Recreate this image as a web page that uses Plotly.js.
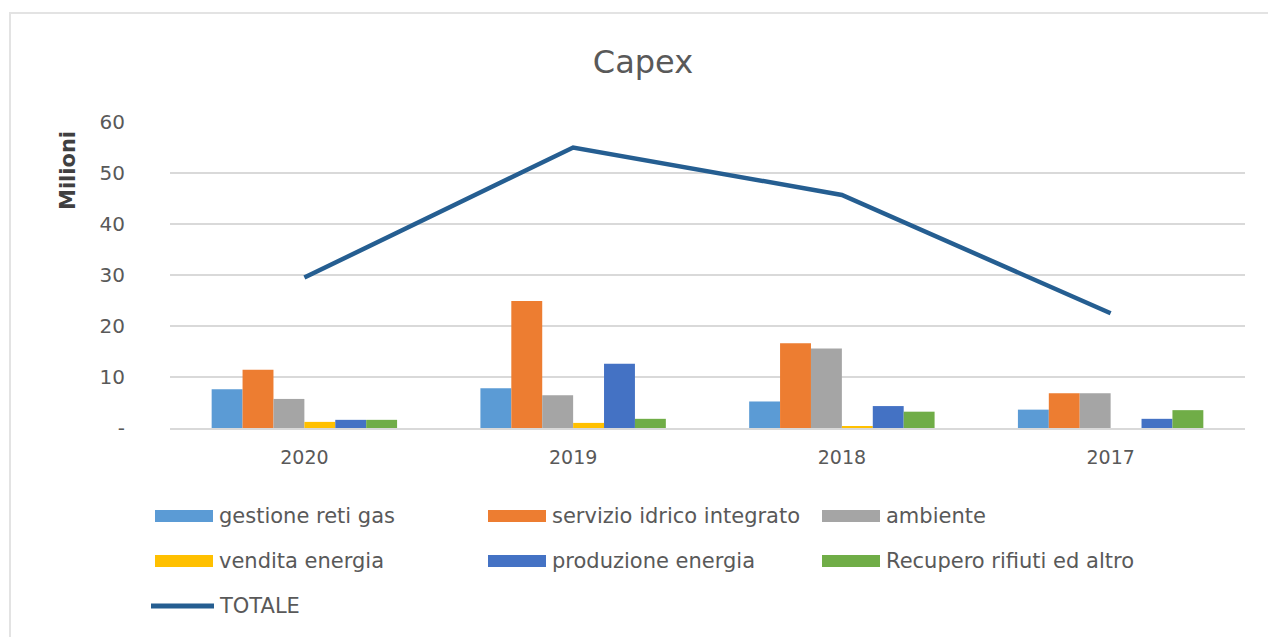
<!DOCTYPE html>
<html><head><meta charset="utf-8">
<script src="https://cdn.plot.ly/plotly-3.0.1.min.js"></script>
<style>
html,body{margin:0;padding:0;background:#fff;overflow:hidden}
#chart{width:1268px;height:637px;position:absolute;left:0;top:0}
#frame{position:absolute;left:9px;top:12px;width:1259px;height:625px;border-top:2px solid #e3e3e3;border-left:2px solid #e3e3e3;pointer-events:none}
</style></head>
<body><div id="chart"></div><div id="frame"></div>
<script>
// ---- data ----
const years = ['2020', '2019', '2018', '2017'];
const seriesNames = ['gestione reti gas', 'servizio idrico integrato', 'ambiente', 'vendita energia', 'produzione energia', 'Recupero rifiuti ed altro'];
const gestioneRetiGas = [7.6, 7.8, 5.2, 3.6];
const servizioIdricoIntegrato = [11.4, 24.9, 16.6, 6.8];
const ambiente = [5.7, 6.4, 15.6, 6.8];
const venditaEnergia = [1.2, 1.0, 0.3, 0];
const produzioneEnergia = [1.6, 12.6, 4.3, 1.8];
const recuperoRifiuti = [1.6, 1.8, 3.2, 3.5];
const totaleName = 'TOTALE';
const totale = [29.5, 55.0, 45.7, 22.5];
const yTickVals = [0, 10, 20, 30, 40, 50, 60];
const yTickText = ['-', '10', '20', '30', '40', '50', '60'];

// ---- styles ----
const barColors = ['#5B9BD5', '#ED7D31', '#A5A5A5', '#FFC000', '#4472C4', '#70AD47'];
const lineColor = '#255E91';
const FONT = 'DejaVu Sans, Arial, sans-serif';
const TXT = '#595959';

const W = 1268, H = 637;
const M = {l: 170, r: 23, t: 122, b: 209};
const PW = W - M.l - M.r, PH = H - M.t - M.b;
const px = x => (x - M.l) / PW;          // page pixel -> paper x
const py = y => (H - M.b - y) / PH;      // page pixel -> paper y

const seriesValues = [gestioneRetiGas, servizioIdricoIntegrato, ambiente, venditaEnergia, produzioneEnergia, recuperoRifiuti];
const traces = seriesValues.map((vals, i) => ({
  type: 'bar', name: seriesNames[i], x: years, y: vals,
  marker: {color: barColors[i]}, hoverinfo: 'name+y'
}));
traces.push({
  type: 'scatter', mode: 'lines', name: totaleName, x: years, y: totale,
  line: {color: lineColor, width: 4.5}
});

// ---- custom legend (wide swatches as in the original) ----
const shapes = [], annotations = [];
const colX = [155, 488, 822];
const rowY = [516, 561, 606];
seriesNames.forEach((n, i) => {
  const cx = colX[i % 3], cy = rowY[Math.floor(i / 3)];
  shapes.push({type: 'rect', xref: 'paper', yref: 'paper',
    x0: px(cx), x1: px(cx + 58), y0: py(cy + 6), y1: py(cy - 6),
    fillcolor: barColors[i], line: {width: 0}});
  annotations.push({xref: 'paper', yref: 'paper', x: px(cx + 62), y: py(cy),
    xanchor: 'left', yanchor: 'middle', showarrow: false, text: n,
    font: {family: FONT, size: 21, color: TXT}});
});
shapes.push({type: 'line', xref: 'paper', yref: 'paper',
  x0: px(151), x1: px(214), y0: py(rowY[2]), y1: py(rowY[2]),
  line: {color: lineColor, width: 5}});
annotations.push({xref: 'paper', yref: 'paper', x: px(217), y: py(rowY[2]),
  xanchor: 'left', yanchor: 'middle', showarrow: false, text: totaleName,
  font: {family: FONT, size: 21, color: TXT}});
// y-axis title placed like the original
annotations.push({xref: 'paper', yref: 'paper', x: px(68), y: py(171),
  xanchor: 'center', yanchor: 'middle', showarrow: false, textangle: -90,
  text: '<b>Milioni</b>', font: {family: FONT, size: 21, color: '#404040'}});

const layout = {
  width: W, height: H,
  margin: M,
  paper_bgcolor: '#ffffff', plot_bgcolor: '#ffffff',
  title: {text: 'Capex', xref: 'container', x: 643 / W, xanchor: 'center',
    y: 1 - 62 / H, yanchor: 'middle',
    font: {family: FONT, size: 32, color: '#595959'}},
  font: {family: FONT, color: TXT},
  showlegend: false,
  barmode: 'group', bargap: 0.31, bargroupgap: 0,
  xaxis: {type: 'category', showgrid: false, zeroline: false,
    showline: true, linecolor: '#d9d9d9', linewidth: 2,
    ticks: '', tickfont: {family: FONT, size: 19, color: TXT},
    ticklabelstandoff: 11},
  yaxis: {range: [0, 60], tickvals: yTickVals, ticktext: yTickText,
    showgrid: true, gridcolor: '#d9d9d9', gridwidth: 2, zeroline: false,
    showline: false, ticks: '', tickfont: {family: FONT, size: 20, color: TXT},
    ticklabelstandoff: 44},
  shapes: shapes, annotations: annotations
};

Plotly.newPlot('chart', traces, layout, {displayModeBar: false, responsive: false});
</script>
</body></html>
